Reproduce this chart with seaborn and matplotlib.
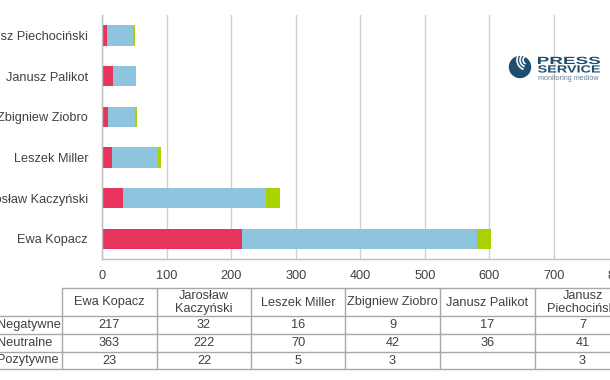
import matplotlib
matplotlib.use("Agg")
import matplotlib.pyplot as plt
import seaborn as sns
import pandas as pd
import numpy as np
from matplotlib.patches import Circle, Arc, PathPatch
from matplotlib.textpath import TextPath
from matplotlib.font_manager import FontProperties
from matplotlib.transforms import Affine2D

candidates = ["Ewa Kopacz", "Jarosław Kaczyński", "Leszek Miller",
              "Zbigniew Ziobro", "Janusz Palikot", "Janusz Piechociński"]
header_labels = ["Ewa Kopacz", "Jarosław\nKaczyński", "Leszek Miller",
                 "Zbigniew Ziobro", "Janusz Palikot", "Janusz\nPiechociński"]
series_names = ["Negatywne", "Neutralne", "Pozytywne"]
negatywne = [217, 32, 16, 9, 17, 7]
neutralne = [363, 222, 70, 42, 36, 41]
pozytywne = [23, 22, 5, 3, 0, 3]
table_text = {
    "Negatywne": ["217", "32", "16", "9", "17", "7"],
    "Neutralne": ["363", "222", "70", "42", "36", "41"],
    "Pozytywne": ["23", "22", "5", "3", "", "3"],
}
x_ticks = [0, 100, 200, 300, 400, 500, 600, 700, 800]

c_neg = "#E8335F"
c_neu = "#8EC4DE"
c_poz = "#AAD200"
txt = "#404040"

sns.set_style("white")
plt.rcParams["font.family"] = ["Liberation Sans", "DejaVu Sans"]
plt.rcParams["font.size"] = 9.2

W, H = 610, 380
fig = plt.figure(figsize=(W / 100, H / 100), dpi=100)

def fx(px):
    return px / W

def fy(py):
    return 1 - py / H

ax = fig.add_axes([fx(102), fy(259), fx(618.6) - fx(102), fy(15) - fy(259)])

df = pd.DataFrame({"cand": candidates, "neg": negatywne, "neu": neutralne, "poz": pozytywne})
df["c2"] = df["neg"] + df["neu"]
df["c3"] = df["c2"] + df["poz"]
order = candidates[::-1]

sns.barplot(data=df, y="cand", x="c3", order=order, color=c_poz, width=0.5,
            saturation=1, ax=ax, orient="h", linewidth=0)
sns.barplot(data=df, y="cand", x="c2", order=order, color=c_neu, width=0.5,
            saturation=1, ax=ax, orient="h", linewidth=0)
sns.barplot(data=df, y="cand", x="neg", order=order, color=c_neg, width=0.5,
            saturation=1, ax=ax, orient="h", linewidth=0)

ax.set_xlim(0, 800)
ax.set_ylim(5.5, -0.5)
ax.set_xticks(x_ticks)
ax.set_xticklabels([str(t) for t in x_ticks])
ax.set_xlabel("")
ax.set_ylabel("")
ax.grid(axis="x", color="#D0D0D0", linewidth=1)
ax.set_axisbelow(True)
for s in ["top", "right"]:
    ax.spines[s].set_visible(False)
for s in ["left", "bottom"]:
    ax.spines[s].set_color("#BFBFBF")
    ax.spines[s].set_linewidth(1)
ax.tick_params(axis="x", length=0, pad=8, labelsize=9.2, labelcolor=txt)
ax.tick_params(axis="y", length=0, pad=10, labelsize=9.2, labelcolor=txt)

# Table
tax = fig.add_axes([0, 0, 1, 1])
tax.set_xlim(0, W)
tax.set_ylim(H, 0)
tax.axis("off")
lc = "#A8A8A8"
col_edges = [62, 157, 251, 345, 440, 535, 630]
row_edges = [288, 316, 334, 352, 369]
tax.plot([62, 630], [288, 288], color=lc, lw=1)
for y in row_edges[1:]:
    tax.plot([0, 630], [y, y], color=lc, lw=1)
for x in col_edges:
    tax.plot([x, x], [288, 369], color=lc, lw=1)
for i, h in enumerate(header_labels):
    cx = (col_edges[i] + col_edges[i + 1]) / 2
    tax.text(cx, 302.5, h, ha="center", va="center", color=txt, fontsize=9.2,
             linespacing=1.2)
for r, name in enumerate(series_names):
    cy = (row_edges[r + 1] + row_edges[r + 2]) / 2
    tax.text(-3, cy, name, ha="left", va="center", color=txt, fontsize=9.2)
    for i, v in enumerate(table_text[name]):
        cx = (col_edges[i] + col_edges[i + 1]) / 2
        tax.text(cx, cy, v, ha="center", va="center", color=txt, fontsize=9.2)

# Logo
navy = "#1F4E6E"
tax.add_patch(Circle((520, 67), 10.5, color=navy))
for r in [4, 7, 10]:
    tax.add_patch(Arc((527, 60), 2 * r, 2 * r, theta1=110, theta2=250,
                      color="white", lw=1.2))

bold = FontProperties(family="Liberation Sans", weight="bold")

def logo_word(word, x0, x1, ybase, cap):
    tp = TextPath((0, 0), word, size=10, prop=bold)
    ext = tp.get_extents()
    sx = (x1 - x0) / ext.width
    sy = cap / 7.2
    tr = Affine2D().translate(-ext.x0, 0).scale(sx, -sy).translate(x0, ybase)
    tax.add_patch(PathPatch(tr.transform_path(tp), color=navy, lw=0))

logo_word("PRESS", 538, 600, 64, 7.5)
logo_word("SERVICE", 538, 600, 72.5, 7.5)
tax.text(538, 80.5, "monitoring mediów", color="#6F8294", fontsize=5.2,
         ha="left", va="baseline")

fig.savefig("out.png", dpi=100)
